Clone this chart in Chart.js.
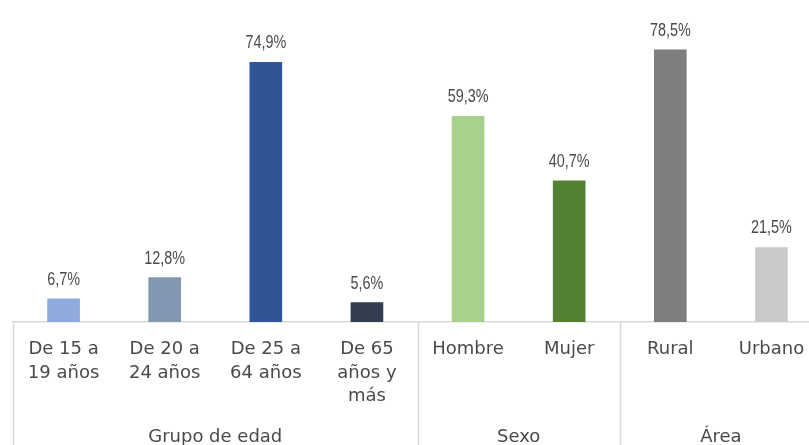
<!doctype html>
<html lang="es">
<head>
<meta charset="UTF-8">
<title>Distribución por grupo</title>
<script src="https://cdn.jsdelivr.net/npm/chart.js"></script>
<style>
    html, body { margin: 0; padding: 0; background: #fff; overflow: hidden; }
    #wrap { width: 822px; height: 445px; position: relative; }
</style>
</head>
<body>
<div id="wrap"><canvas id="myChart"></canvas></div>
<script>
    // datos
    var categories = [
        ['De 15 a', '19 años'],
        ['De 20 a', '24 años'],
        ['De 25 a', '64 años'],
        ['De 65', 'años y', 'más'],
        'Hombre', 'Mujer',
        'Rural', 'Urbano'
    ];
    var values = [6.7, 12.8, 74.9, 5.6, 59.3, 40.7, 78.5, 21.5];
    var valueLabels = ['6,7%', '12,8%', '74,9%', '5,6%', '59,3%', '40,7%', '78,5%', '21,5%'];
    var groups = ['Grupo de edad', 'Sexo', 'Área'];
    var groupSizes = [4, 2, 2];

    var colors = ['#8faadc', '#8497b0', '#2f5597', '#333f50', '#a9d18e', '#548235', '#7f7f7f', '#c9c9c9'];
    var textColor = '#4a4a4a';
    var lineColor = '#d9d9d9';
    var mainFont = '"DejaVu Sans", sans-serif';

    // etiquetas de valor sobre cada barra (letra estrecha)
    var valueLabelPlugin = {
        id: 'valueLabels',
        afterDatasetsDraw: function (chart) {
            var ctx = chart.ctx;
            var meta = chart.getDatasetMeta(0);
            ctx.save();
            ctx.fillStyle = textColor;
            ctx.font = '18px "Liberation Sans", sans-serif';
            ctx.textAlign = 'center';
            ctx.textBaseline = 'bottom';
            meta.data.forEach(function (bar, i) {
                ctx.save();
                ctx.translate(bar.x, bar.y - 10);
                ctx.scale(0.8, 1);
                ctx.fillText(valueLabels[i], 0, 0);
                ctx.restore();
            });
            ctx.restore();
        }
    };

    // separadores y nombres de grupo bajo el eje
    var groupPlugin = {
        id: 'groups',
        afterDraw: function (chart) {
            var ctx = chart.ctx;
            var x = chart.scales.x;
            var top = chart.chartArea.bottom;
            var bottom = chart.height;
            var step = x.getPixelForValue(1) - x.getPixelForValue(0);
            ctx.save();
            ctx.strokeStyle = lineColor;
            ctx.lineWidth = 1.5;
            ctx.fillStyle = textColor;
            ctx.font = '18px ' + mainFont;
            ctx.textAlign = 'center';
            ctx.textBaseline = 'middle';
            var start = 0;
            groups.forEach(function (g, gi) {
                var left = x.getPixelForValue(start) - step / 2;
                var right = x.getPixelForValue(start + groupSizes[gi] - 1) + step / 2;
                ctx.beginPath();
                ctx.moveTo(Math.round(left) + 0.5, top);
                ctx.lineTo(Math.round(left) + 0.5, bottom);
                ctx.stroke();
                ctx.fillText(g, (left + right) / 2, 437);
                start += groupSizes[gi];
            });
            ctx.restore();
        }
    };

    var ctx = document.getElementById('myChart');
    var myChart = new Chart(ctx, {
        type: 'bar',
        data: {
            labels: categories,
            datasets: [{
                data: values,
                backgroundColor: colors,
                barThickness: 32
            }]
        },
        options: {
            responsive: true,
            maintainAspectRatio: false,
            animation: false,
            layout: { padding: { left: 13, right: 0, top: 10, bottom: 0 } },
            plugins: {
                legend: { display: false },
                tooltip: { enabled: false }
            },
            scales: {
                x: {
                    grid: { display: false, drawTicks: false },
                    border: { display: true, color: lineColor, width: 1.5 },
                    ticks: {
                        color: textColor,
                        font: { family: mainFont, size: 18, lineHeight: 1.3 },
                        padding: 16,
                        maxRotation: 0,
                        autoSkip: false
                    },
                    afterFit: function (scale) { scale.height = 123; }
                },
                y: {
                    display: false,
                    min: 0,
                    max: 90
                }
            }
        },
        plugins: [valueLabelPlugin, groupPlugin]
    });
</script>
</body>
</html>
